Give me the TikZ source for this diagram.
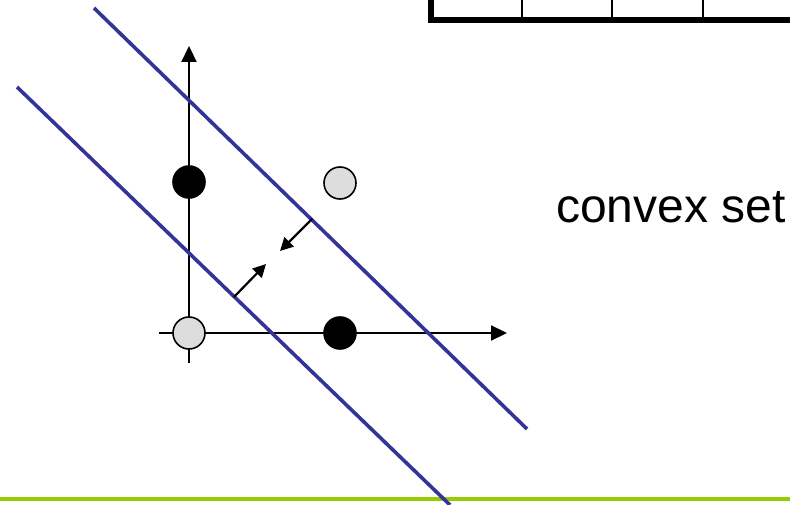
\documentclass[tikz,border=0pt]{standalone}
\usepackage{fontspec}
\setmainfont{Liberation Sans}
\usetikzlibrary{arrows.meta}
\definecolor{sepblue}{HTML}{333399}
\definecolor{rulegreen}{HTML}{99CC00}
\definecolor{ptgray}{HTML}{DDDDDD}
\tikzset{
  axis/.style={line width=2.2pt, -{Triangle[length=16pt,width=15pt]}},
  sepline/.style={sepblue, line width=3.6pt},
  normalarrow/.style={line width=2.2pt, -{Triangle[length=13pt,width=13pt]}},
  blackpt/.style={circle, fill=black, draw=black, line width=1.6pt, minimum size=32pt, inner sep=0pt},
  graypt/.style={circle, fill=ptgray, draw=black, line width=1.6pt, minimum size=32pt, inner sep=0pt},
  tabthick/.style={line width=5.8pt},
  tabthin/.style={line width=2.2pt},
  label/.style={font=\fontsize{48}{50}\selectfont, inner sep=0pt, anchor=base west}
}
\begin{document}
\begin{tikzpicture}[x=1pt,y=-1pt]
\useasboundingbox (0,0) rectangle (790,505);
% table fragment
\coordinate (tl) at (431,0);
\coordinate (tb) at (431,23);
\coordinate (bl) at (428.5,20);
\coordinate (br) at (790,20);
\draw[tabthick] (tl) -- (tb);
\draw[tabthick] (bl) -- (br);
\foreach \x [count=\i] in {522,612,703}{
  \coordinate (vt\i) at (\x,0);
  \coordinate (vb\i) at (\x,18);
  \draw[tabthin] (vt\i) -- (vb\i);
}
% green rule
\coordinate (gl) at (0,499);
\coordinate (gr) at (790,499);
\draw[rulegreen, line width=3.2pt] (gl) -- (gr);
% axes
\coordinate (ybot) at (189,363);
\coordinate (ytop) at (189,46);
\coordinate (xleft) at (159,333);
\coordinate (xright) at (507,333);
\draw[axis] (ybot) -- (ytop);
\draw[axis] (xleft) -- (xright);
% separating lines
\coordinate (u1) at (94,8);
\coordinate (u2) at (527,429);
\coordinate (l1) at (17,87);
\coordinate (l2) at (450,505);
\draw[sepline] (u1) -- (u2);
\draw[sepline] (l1) -- (l2);
% normal arrows
\coordinate (a1s) at (312,219);
\coordinate (a1e) at (280,251);
\coordinate (a2s) at (234,297);
\coordinate (a2e) at (266,264);
\draw[normalarrow] (a1s) -- (a1e);
\draw[normalarrow] (a2s) -- (a2e);
% points
\node[blackpt] (p01) at (189,182) {};
\node[graypt] (p11) at (340,183) {};
\node[graypt] (p00) at (189,333) {};
\node[blackpt] (p10) at (340,333) {};
% label
\node[label] (cs) at (556,223) {convex set};
\end{tikzpicture}
\end{document}
